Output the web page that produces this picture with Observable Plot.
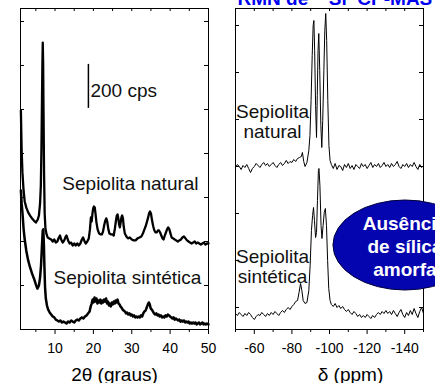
<!DOCTYPE html>
<html><head><meta charset="utf-8">
<script src="https://cdn.jsdelivr.net/npm/d3@7"></script>
<script src="https://cdn.jsdelivr.net/npm/@observablehq/plot@0.6"></script>
<style>
html,body{margin:0;padding:0;background:#fff;}
#wrap{display:flex;width:435px;height:383px;overflow:hidden;}
</style></head><body><div id="wrap"></div>
<script>
// ---------- DRX (2θ in degrees, intensity in cps) ----------
const xrdNatTheta = [1.1,1.3,1.5,1.8,2.1,2.5,3.0,3.5,4.0,4.5,
  5.0,5.5,5.8,6.1,6.3,6.45,6.6,6.72,6.8,6.9,
  7.0,7.15,7.3,7.5,7.8,8.1,8.5,9.0,9.4,9.8,
  10.2,10.6,11.0,11.3,11.6,12.0,12.4,12.8,13.0,13.4,
  13.8,14.2,14.6,15.0,15.4,15.8,16.2,16.6,17.0,17.3,
  17.6,18.0,18.4,18.8,19.1,19.35,19.55,19.75,19.95,20.15,
  20.35,20.55,20.8,21.1,21.5,21.9,22.2,22.5,22.8,23.1,
  23.35,23.6,23.9,24.2,24.6,25.0,25.3,25.6,25.85,26.1,
  26.3,26.5,26.7,26.9,27.1,27.3,27.5,27.7,27.9,28.2,
  28.6,29.0,29.5,30.0,30.5,31.0,31.5,32.0,32.5,32.9,
  33.3,33.6,33.9,34.2,34.5,34.75,35.0,35.3,35.6,35.9,
  36.2,36.5,36.8,37.1,37.4,37.7,38.0,38.3,38.6,38.9,
  39.2,39.5,39.8,40.1,40.4,40.8,41.2,41.6,42.0,42.4,
  42.8,43.2,43.6,44.0,44.4,44.8,45.2,45.6,46.0,46.4,
  46.8,47.2,47.6,48.0,48.4,48.8,49.2,49.6,50.0];
const xrdNatCps = [995,814,714,632,582,555,532,518,505,495,
  486,500,518,573,654,814,1041,1223,1304,1214,
  995,700,527,459,432,418,414,409,400,409,
  395,400,418,427,409,395,405,423,427,405,
  391,395,382,391,382,391,382,391,409,418,
  405,391,400,414,455,509,491,527,550,559,
  555,527,486,455,436,432,432,445,473,495,
  505,491,455,436,432,432,427,459,491,518,
  523,505,477,464,486,509,518,505,468,436,
  423,414,418,409,405,405,414,418,423,436,
  455,468,486,505,527,536,527,495,468,450,
  441,441,450,450,441,427,414,409,427,441,
  455,464,455,436,418,414,409,405,400,405,
  409,418,423,414,405,400,395,391,395,400,
  391,395,391,386,391,395,386,391,391];

const xrdSinTheta = [1.1,1.3,1.5,1.8,2.1,2.5,3.0,3.5,4.0,4.5,
  5.0,5.4,5.8,6.1,6.35,6.6,6.8,6.95,7.1,7.25,
  7.4,7.6,7.9,8.2,8.6,9.0,9.4,9.8,10.2,10.6,
  11.0,11.4,11.8,12.2,12.6,13.0,13.4,13.8,14.2,14.6,
  15.0,15.4,15.8,16.2,16.6,17.0,17.4,17.8,18.2,18.6,
  19.0,19.3,19.55,19.8,20.05,20.3,20.55,20.8,21.05,21.3,
  21.55,21.8,22.05,22.3,22.55,22.8,23.05,23.3,23.55,23.8,
  24.05,24.3,24.55,24.8,25.05,25.3,25.55,25.8,26.05,26.3,
  26.55,26.8,27.05,27.3,27.6,27.9,28.2,28.5,28.8,29.1,
  29.4,29.7,30.0,30.3,30.6,30.9,31.2,31.5,31.8,32.1,
  32.4,32.7,33.0,33.3,33.6,33.9,34.2,34.45,34.7,34.95,
  35.2,35.5,35.8,36.1,36.4,36.7,37.0,37.3,37.6,37.9,
  38.2,38.5,38.8,39.1,39.4,39.7,40.0,40.3,40.6,40.9,
  41.2,41.5,41.8,42.1,42.4,42.7,43.0,43.3,43.6,43.9,
  44.2,44.5,44.8,45.1,45.4,45.7,46.0,46.3,46.6,46.9,
  47.2,47.5,47.8,48.1,48.4,48.7,49.0,49.3,49.6,50.0];
const xrdSinCps = [632,573,532,459,409,359,314,282,255,232,
  205,186,200,236,291,382,450,455,382,277,
  191,141,109,91,77,68,59,55,45,41,
  36,41,32,36,32,27,36,32,41,36,
  32,41,45,41,50,55,50,59,64,73,
  82,105,118,136,123,145,127,141,118,132,
  123,136,118,132,123,136,127,141,118,127,
  109,118,105,123,114,127,118,132,123,136,
  118,114,105,100,91,86,82,73,77,68,
  73,64,68,59,64,55,59,55,59,55,
  64,59,73,82,86,100,114,123,114,95,
  91,82,73,68,73,64,68,59,64,55,
  59,55,64,59,68,64,59,55,50,55,
  45,50,45,41,45,36,41,36,41,32,
  36,32,36,27,32,27,32,27,32,23,
  27,32,23,27,32,23,27,23,27,23];

const xrdMajorTicks = [10,20,30,40,50];
const xrdMinorTicks = [5,15,25,35,45];
const cpsTicks = [200,400,600,800,1000,1200,1400];

// ---------- RMN 29Si (δ in ppm, intensity in a.u.) ----------
const nmrNatPpm = [-50,-51,-52,-53,-54,-55,-56,-57,-58,-59,
  -60,-61,-62,-63,-64,-65,-66,-67,-68,-69,
  -70,-71,-72,-73,-74,-75,-76,-77,-78,-79,
  -80,-81,-82,-83,-84,-85,-85.6,-86.3,-87,-88,
  -89,-89.6,-90.2,-90.8,-91.3,-91.7,-92.1,-92.6,-93.1,-93.5,
  -93.9,-94.3,-94.8,-95.4,-95.9,-96.4,-97.0,-97.5,-98.0,-98.5,
  -99.1,-99.7,-100.3,-101,-102,-103,-104,-105,-106,-107,
  -108,-109,-110,-111,-112,-113,-114,-115,-116,-117,
  -118,-119,-120,-121,-122,-123,-124,-125,-126,-127,
  -128,-129,-130,-131,-132,-133,-134,-135,-136,-137,
  -138,-139,-140,-141,-142,-143,-144,-145,-146,-147,
  -148,-149,-150];
const nmrNatInt = [162,165,163,160,164,162,165,161,157,161,
  163,166,164,162,165,167,164,166,163,165,
  167,164,162,165,167,164,166,169,166,168,
  167,170,168,171,172,173,177,168,163,167,
  179,194,229,274,304,309,279,224,192,234,
  279,296,259,204,182,209,259,299,316,289,
  229,184,169,165,161,166,160,164,163,159,
  165,162,166,161,164,160,165,163,161,166,
  163,165,161,164,167,162,165,163,166,162,
  164,167,163,165,162,166,163,165,168,163,
  161,165,163,166,162,165,163,167,163,160,
  165,162,164];

const nmrSinPpm = [-50,-51,-52,-53,-54,-55,-56,-57,-58,-59,
  -60,-61,-62,-63,-64,-65,-66,-67,-68,-69,
  -70,-71,-72,-73,-74,-75,-76,-77,-78,-79,
  -80,-81,-82,-83,-83.8,-84.6,-85.3,-86,-87,-88,
  -89,-89.7,-90.4,-91.0,-91.5,-92.0,-92.6,-93.1,-93.6,-94.1,
  -94.4,-94.9,-95.5,-96.0,-96.6,-97.2,-97.8,-98.4,-99.0,-99.6,
  -100.3,-101,-102,-103,-104,-105,-106,-107,-108,-109,
  -110,-111,-112,-113,-114,-115,-116,-117,-118,-119,
  -120,-121,-122,-123,-124,-125,-126,-127,-128,-129,
  -130,-131,-132,-133,-134,-135,-136,-137,-138,-139,
  -140,-141,-142,-143,-144,-145,-146,-147,-148,-149,
  -150];
const nmrSinInt = [16,14,17,15,13,16,14,17,15,12,
  10,13,15,14,17,15,13,16,14,17,
  15,18,16,14,17,19,17,20,22,20,
  23,25,28,29,37,46,39,29,26,27,
  39,64,99,114,122,109,92,97,129,159,
  161,144,104,91,104,117,121,104,69,41,
  29,25,23,26,22,24,21,23,20,18,
  20,17,15,18,16,13,15,12,14,12,
  15,13,11,14,12,15,17,15,18,16,
  19,16,18,15,19,16,13,17,20,15,
  12,17,14,19,15,21,16,12,18,22,
  16];

const nmrMajorTicks = [-60,-80,-100,-120,-140];
const nmrMinorTicks = [-50,-70,-90,-110,-130,-150];
const nmrIntTicks = [22,69,116,163,210,257,304];

// ---------- helpers ----------
const pairs = (xs, ys) => xs.map((x, i) => ({x, y: ys[i]}));
const FONT = '"Liberation Sans", Arial, Helvetica, sans-serif';
const FW = 188, FH = 321; // frame size in px

function frameTicks(major, minor, yTicks) {
  const all = major.concat(minor);
  return [
    Plot.frame({stroke: "#000", strokeWidth: 1}),
    Plot.ruleX(all, {x: d => d, insetBottom: FH - 3, stroke: "#000"}),
    Plot.ruleX(minor, {x: d => d, insetTop: FH, insetBottom: -3, stroke: "#000"}),
    Plot.ruleY(yTicks, {y: d => d, insetRight: FW - 4, stroke: "#000"}),
    Plot.ruleY(yTicks, {y: d => d, insetLeft: FW - 4, stroke: "#000"}),
    Plot.axisX({ticks: major, tickSize: 5, tickPadding: 9, fontSize: 14, label: null,
      tickFormat: d => String(d), stroke: "#000", fill: "#000"})
  ];
}

// ---------- left: DRX ----------
const left = Plot.plot({
  width: 222, height: 383, marginLeft: 20, marginRight: 14, marginTop: 8, marginBottom: 54,
  style: {fontFamily: FONT, color: "#000", background: "#fff", overflow: "hidden"},
  x: {domain: [1, 50]},
  y: {domain: [0, 1459], axis: null},
  marks: [
    ...frameTicks(xrdMajorTicks, xrdMinorTicks, cpsTicks),
    Plot.line(pairs(xrdNatTheta, xrdNatCps), {x: "x", y: "y", stroke: "#000", strokeWidth: 2.3, strokeLinejoin: "round"}),
    Plot.line(pairs(xrdSinTheta, xrdSinCps), {x: "x", y: "y", stroke: "#000", strokeWidth: 2.5, strokeLinejoin: "round"}),
    Plot.ruleX([{x: 18.7, y1: 1005, y2: 1205}], {x: "x", y1: "y1", y2: "y2", stroke: "#000", strokeWidth: 1.5}),
    Plot.text([{x: 18.7, y: 1059, t: "200 cps"}], {x: "x", y: "y", text: "t", dx: 2, textAnchor: "start", lineAnchor: "bottom", fontSize: 19, fill: "#111"}),
    Plot.text([{x: 11.9, y: 632, t: "Sepiolita natural"}], {x: "x", y: "y", text: "t", textAnchor: "start", lineAnchor: "bottom", fontSize: 19, fill: "#111"}),
    Plot.text([{x: 9.6, y: 209, t: "Sepiolita sintética"}], {x: "x", y: "y", text: "t", textAnchor: "start", lineAnchor: "bottom", fontSize: 19, fill: "#111"}),
    Plot.text(["2θ (graus)"], {text: d => d, frameAnchor: "bottom", dy: 51, lineAnchor: "bottom", fontSize: 19, fill: "#000"})
  ]
});

// ---------- right: RMN ----------
const right = Plot.plot({
  width: 213, height: 383, marginLeft: 13, marginRight: 12, marginTop: 8, marginBottom: 54,
  style: {fontFamily: FONT, color: "#000", background: "#fff", overflow: "hidden"},
  x: {domain: [-50, -150]},
  y: {domain: [0, 321], axis: null},
  marks: [
    ...frameTicks(nmrMajorTicks, nmrMinorTicks, nmrIntTicks),
    Plot.line(pairs(nmrNatPpm, nmrNatInt), {x: "x", y: "y", stroke: "#000", strokeWidth: 1}),
    Plot.line(pairs(nmrSinPpm, nmrSinInt), {x: "x", y: "y", stroke: "#000", strokeWidth: 1}),
    Plot.text([{x: -69.7, y: 192, t: "Sepiolita\nnatural"}], {x: "x", y: "y", text: "t", textAnchor: "middle", lineAnchor: "bottom", lineHeight: 1.04, fontSize: 19, fill: "#111"}),
    Plot.text([{x: -69.7, y: 47, t: "Sepiolita\nsintética"}], {x: "x", y: "y", text: "t", textAnchor: "middle", lineAnchor: "bottom", lineHeight: 1.04, fontSize: 19, fill: "#111"}),
    Plot.text(["RMN de ²⁹Si\u00a0 CP-MAS"], {text: d => d, frameAnchor: "top-left", dx: 2, dy: -4, textAnchor: "start", lineAnchor: "bottom", fontSize: 19, fontWeight: "bold", fill: "#0000f0"}),
    Plot.text(["δ (ppm)"], {text: d => d, frameAnchor: "bottom", dx: 21, dy: 51, lineAnchor: "bottom", fontSize: 19, fill: "#000"})
  ]
});

// annotation ellipse drawn through the plot's own scales
const sx = right.scale("x"), sy = right.scale("y");
const blobPpm = -140.4, blobInt = 84, blobRxPpm = 38.3, blobRyInt = 45;
const ex = sx.apply(blobPpm), ey = sy.apply(blobInt);
const erx = Math.abs(sx.apply(blobPpm - blobRxPpm) - ex);
const ery = Math.abs(sy.apply(blobInt + blobRyInt) - ey);
const g = d3.select(right).append("g");
g.append("ellipse").attr("cx", ex).attr("cy", ey).attr("rx", erx).attr("ry", ery)
  .attr("fill", "#0505b0").attr("stroke", "#00003a").attr("stroke-width", 1);
[["Ausência", 99], ["de sílica", 76], ["amorfa", 53]].forEach(([t, v]) => {
  g.append("text").attr("x", ex).attr("y", sy.apply(v)).attr("text-anchor", "middle")
    .attr("fill", "#fff").attr("font-weight", "bold").attr("font-size", 19)
    .attr("font-family", FONT).text(t);
});

document.getElementById("wrap").append(left, right);
</script></body></html>
